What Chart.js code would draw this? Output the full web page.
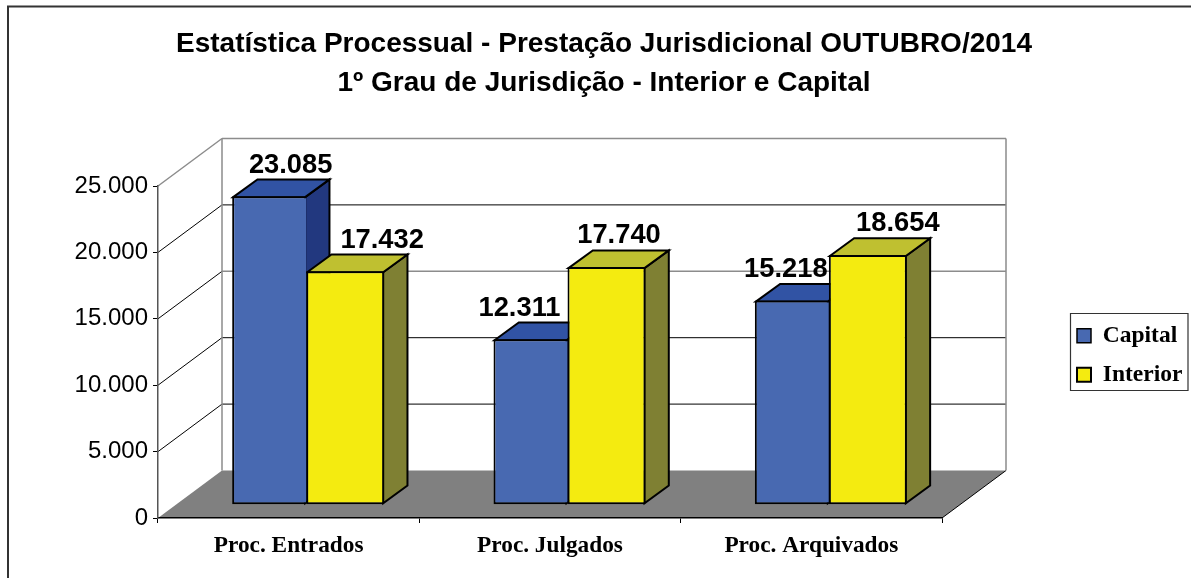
<!DOCTYPE html>
<html><head><meta charset="utf-8">
<style>html,body{margin:0;padding:0;background:#fff}#w{width:1191px;height:578px;position:relative}</style>
<script src="https://cdn.jsdelivr.net/npm/chart.js@4/dist/chart.umd.min.js"></script>
</head><body><div id="w"><canvas id="c" width="1191" height="578"></canvas></div>
<script>
const categories = ["Proc. Entrados", "Proc. Julgados", "Proc. Arquivados"];
const capital = [23085, 12311, 15218];
const interior = [17432, 17740, 18654];
const yTicksMax = 25000;
const yTickStep = 5000;
const titleLines = ["Estatística Processual - Prestação Jurisdicional OUTUBRO/2014", "1º Grau de Jurisdição - Interior e Capital"];

const fmt = v => String(v).replace(/\B(?=(\d{3})+$)/g, ".");
const SANS = '"Liberation Sans", Arial, sans-serif';
const SERIF = '"Liberation Serif", "Times New Roman", serif';
const WALL = {dx: 64, dy: 47.5};
const BAR = {sx: 19.5, sy: 14.3, dx: 24.3, dy: 17.7};
const barEdge = [{l: -1, r: -2}, {l: -2, r: 1}];
const faces = [{side: "#22387F", top: "#3153A4"}, {side: "#7F8033", top: "#BFC030"}];
const labelNudge = [[21.5, -11, -6], [37, 12.5, 30]];
const labelRise = [[5.5, 6, 6], [6, 6, 6]];

const threeD = {
  id: "threeD",
  afterLayout(chart) {
    const t = chart.titleBlock, l = chart.legend;
    t.left = 104; t.right = 1104;
    const w = l.width, h = l.height;
    l.left = 1061.5; l.right = 1061.5 + w; l.top = 308.5; l.bottom = 308.5 + h;
  },
  afterDatasetsUpdate(chart) {
    chart.data.datasets.forEach((d, i) => {
      chart.getDatasetMeta(i).data.forEach(el => {
        const L = el.x - el.width / 2 + BAR.sx + barEdge[i].l;
        const R = el.x + el.width / 2 + BAR.sx + barEdge[i].r;
        el.x = (L + R) / 2; el.width = R - L;
        el.y -= BAR.sy + 1; el.base += 1 - BAR.sy;
      });
    });
  },
  beforeDraw(chart) {
    const g = chart.ctx, a = chart.chartArea, y = chart.scales.y;
    g.save();
    // outer frame
    g.strokeStyle = "#333"; g.lineWidth = 2;
    g.beginPath(); g.moveTo(8, 578); g.lineTo(8, 6.5); g.lineTo(1191, 6.5); g.stroke();
    // floor
    g.fillStyle = "#808080";
    g.beginPath(); g.moveTo(a.left, a.bottom); g.lineTo(a.right, a.bottom);
    g.lineTo(a.right + WALL.dx, a.bottom - WALL.dy); g.lineTo(a.left + WALL.dx, a.bottom - WALL.dy);
    g.closePath(); g.fill();
    // right floor edge
    g.strokeStyle = "#000"; g.lineWidth = 1;
    g.beginPath(); g.moveTo(a.right, a.bottom); g.lineTo(a.right + WALL.dx, a.bottom - WALL.dy); g.stroke();
    // grid on back and side walls
    y.ticks.forEach(t => {
      if (t.value === 0) return;
      const py = y.getPixelForValue(t.value);
      const top = t.value === yTicksMax;
      g.strokeStyle = top ? "#8c8c8c" : "#000"; g.lineWidth = top ? 1.5 : 1;
      g.beginPath(); g.moveTo(a.left, py); g.lineTo(a.left + WALL.dx, py - WALL.dy); g.stroke();
      g.strokeStyle = (top || t.value === 15000) ? "#8c8c8c" : "#000";
      g.lineWidth = (top || t.value === 15000) ? 1.5 : 1;
      g.beginPath(); g.moveTo(a.left + WALL.dx, py - WALL.dy); g.lineTo(a.right + WALL.dx, py - WALL.dy); g.stroke();
    });
    // wall verticals
    g.strokeStyle = "#8c8c8c"; g.lineWidth = 1.5;
    g.beginPath();
    g.moveTo(a.left + WALL.dx, a.top - WALL.dy); g.lineTo(a.left + WALL.dx, a.bottom - WALL.dy);
    g.moveTo(a.right + WALL.dx, a.top - WALL.dy); g.lineTo(a.right + WALL.dx, a.bottom - WALL.dy);
    g.stroke();
    // legend frame
    g.fillStyle = "#fff"; g.strokeStyle = "#333"; g.lineWidth = 1.2;
    g.beginPath(); g.rect(1070.5, 313.5, 117.5, 77); g.fill(); g.stroke();
    g.restore();
  },
  beforeDatasetsDraw(chart) {
    const g = chart.ctx;
    g.save(); g.lineWidth = 2; g.strokeStyle = "#000"; g.lineJoin = "miter";
    chart.data.datasets.forEach((d, i) => {
      chart.getDatasetMeta(i).data.forEach(el => {
        const L = el.x - el.width / 2 + 1, R = el.x + el.width / 2 - 1, T = el.y + 1, B = el.base - 1;
        g.fillStyle = faces[i].side;
        g.beginPath(); g.moveTo(R, T); g.lineTo(R + BAR.dx, T - BAR.dy); g.lineTo(R + BAR.dx, B - BAR.dy); g.lineTo(R, B); g.closePath(); g.fill(); g.stroke();
        g.fillStyle = faces[i].top;
        g.beginPath(); g.moveTo(L, T); g.lineTo(L + BAR.dx, T - BAR.dy); g.lineTo(R + BAR.dx, T - BAR.dy); g.lineTo(R, T); g.closePath(); g.fill(); g.stroke();
      });
    });
    g.restore();
  },
  afterDatasetsDraw(chart) {
    const g = chart.ctx;
    g.save(); g.font = 'bold 27.3px ' + SANS; g.fillStyle = "#000"; g.textAlign = "center"; g.textBaseline = "alphabetic";
    chart.data.datasets.forEach((d, i) => {
      chart.getDatasetMeta(i).data.forEach((el, j) => {
        g.fillText(fmt(d.data[j]), el.x + labelNudge[i][j], el.y - BAR.dy - labelRise[i][j]);
      });
    });
    g.restore();
  }
};

const chart = new Chart(document.getElementById("c"), {
  type: "bar",
  plugins: [threeD],
  data: {
    labels: categories,
    datasets: [
      {label: "Capital", data: capital, backgroundColor: "#4869B1", borderColor: "#000", borderWidth: {top: 2, left: 2, bottom: 2, right: 0}, borderSkipped: false},
      {label: "Interior", data: interior, backgroundColor: "#F4EB10", borderColor: "#000", borderWidth: 2, borderSkipped: false}
    ]
  },
  options: {
    responsive: false,
    animation: false,
    events: [],
    layout: {padding: {left: 0, right: 131, top: 0, bottom: 0}},
    datasets: {bar: {categoryPercentage: 0.574, barPercentage: 1}},
    scales: {
      x: {
        grid: {drawOnChartArea: false, tickLength: 5, tickColor: "#000", tickWidth: 1},
        border: {color: "#000", width: 1.5},
        ticks: {font: {family: SERIF, weight: "bold", size: 23.3}, color: "#000", padding: 9, maxRotation: 0},
        afterFit: s => { s.height = 60; }
      },
      y: {
        min: 0, max: yTicksMax,
        grid: {drawOnChartArea: false, tickLength: 5, tickColor: "#000", tickWidth: 1},
        border: {color: "#555", width: 1.5},
        ticks: {stepSize: yTickStep, font: {family: SANS, size: 24}, color: "#000", padding: 5, callback: v => fmt(v)},
        afterFit: s => { s.width = 158; }
      }
    },
    plugins: {
      title: {display: true, text: titleLines, color: "#000", font: {family: SANS, weight: "bold", size: 28, lineHeight: 1.39}, padding: {top: 25, bottom: 83}},
      legend: {
        position: "right", align: "start",
        labels: {boxWidth: 14, boxHeight: 14, font: {family: SERIF, weight: "bold", size: 23.5, lineHeight: 1.2}, color: "#000", padding: 15.5}
      },
      tooltip: {enabled: false}
    }
  }
});
chart.options.layout.padding.right = 1191 - 942 - chart.legend.width;
chart.options.layout.padding.top = 186 - chart.titleBlock.height;
chart.update();
</script></body></html>
